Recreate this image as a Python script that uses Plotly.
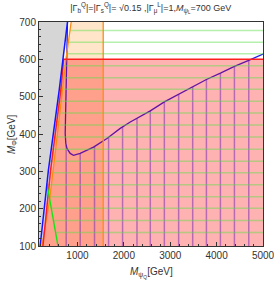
import numpy as np
import plotly.graph_objects as go

# axis ranges
x_min, x_max = 170, 5000
y_min, y_max = 100, 700

# boundary of grey excluded region (blue line)
edge_x = [195, 373, 605, 784]
edge_y = [100, 303, 517, 700]
# red exclusion boundary
red_x = [255, 420, 640, 700, 5000]
red_y = [100, 303, 517, 600, 600]
# orange band
orange_x = [235, 398, 530, 660, 750, 864]
orange_y = [100, 223, 360, 500, 600, 700]
orange_right = 1555
# green region boundary (lower) and left edge
green_x = [580, 339]
green_y = [100, 268]
green_left_x = [339, 480, 620, 760, 864]
green_left_y = [268, 400, 520, 620, 700]
green_mesh_y = [136, 168, 201, 232, 264, 296, 327, 359, 392, 424, 456, 488,
                520, 551, 583, 615, 646, 677]
# U-shaped blue contour
u_x = [784, 771, 750, 737, 735, 748, 771, 842, 914, 1058, 1346, 1635, 1922,
       2138, 2570, 2873, 3181, 3484, 3780, 4082, 4384, 4693, 5000]
u_y = [700, 600, 520, 450, 401, 375, 362, 348, 343, 348, 365, 388, 415,
       432, 462, 486, 506, 526, 546, 563, 581, 597, 614]
blue_mesh_x = [756, 1058, 1367, 1670, 1972, 2283, 2570, 2873, 3181, 3484,
               3780, 4082, 4384, 4693]

fig = go.Figure()

# lavender strip between grey edge and red boundary
ys = np.linspace(100, 600, 30)
bx = np.interp(ys, edge_y, edge_x)
rx = np.interp(ys, red_y[:4], red_x[:4])
fig.add_trace(go.Scatter(x=list(bx) + list(rx[::-1]), y=list(ys) + list(ys[::-1]),
                         fill='toself', fillcolor='rgba(150,160,255,0.45)',
                         line=dict(width=0), mode='lines', hoverinfo='skip'))

# orange band fill
fig.add_trace(go.Scatter(x=orange_x + [orange_right, orange_right],
                         y=orange_y + [y_max, y_min],
                         fill='toself', fillcolor='rgba(255,150,40,0.25)',
                         line=dict(width=0), mode='lines', hoverinfo='skip'))

# blue vertical mesh lines (below the U contour)
i0 = u_x.index(735)
lx, ly = u_x[i0:], u_y[i0:]
mx, my = [], []
for xv in blue_mesh_x:
    top = float(np.interp(xv, lx, ly))
    mx += [xv, xv, None]
    my += [y_min, top, None]
fig.add_trace(go.Scatter(x=mx, y=my, mode='lines',
                         line=dict(color='rgba(70,70,255,0.55)', width=1.5),
                         hoverinfo='skip'))

# U contour
fig.add_trace(go.Scatter(x=u_x, y=u_y, mode='lines',
                         line=dict(color='rgb(30,30,235)', width=1.3),
                         hoverinfo='skip'))

# red region fill
fig.add_trace(go.Scatter(x=red_x + [x_max], y=red_y + [y_min],
                         fill='toself', fillcolor='rgba(255,0,0,0.3)',
                         line=dict(width=0), mode='lines', hoverinfo='skip'))

# green horizontal mesh lines
gx, gy = [], []
for yv in green_mesh_y:
    if yv >= green_y[1]:
        xs = float(np.interp(yv, green_left_y, green_left_x))
    else:
        xs = float(np.interp(yv, green_y, green_x))
    gx += [xs, x_max, None]
    gy += [yv, yv, None]
fig.add_trace(go.Scatter(x=gx, y=gy, mode='lines',
                         line=dict(color='rgba(90,225,70,0.45)', width=1.5),
                         hoverinfo='skip'))

# grey excluded region
fig.add_trace(go.Scatter(x=[x_min] + edge_x + [x_min], y=[y_min] + edge_y + [y_max],
                         fill='toself', fillcolor='rgb(214,214,214)',
                         line=dict(width=0), mode='lines', hoverinfo='skip'))

# boundary lines
fig.add_trace(go.Scatter(x=orange_x, y=orange_y, mode='lines',
                         line=dict(color='rgb(255,140,20)', width=1.3), hoverinfo='skip'))
fig.add_trace(go.Scatter(x=[orange_right, orange_right], y=[y_min, y_max], mode='lines',
                         line=dict(color='rgb(255,140,20)', width=1.3), hoverinfo='skip'))
fig.add_trace(go.Scatter(x=red_x, y=red_y, mode='lines',
                         line=dict(color='rgb(255,30,30)', width=1.5), hoverinfo='skip'))
fig.add_trace(go.Scatter(x=green_x, y=green_y, mode='lines',
                         line=dict(color='rgb(20,230,20)', width=1.4), hoverinfo='skip'))
fig.add_trace(go.Scatter(x=edge_x, y=edge_y, mode='lines',
                         line=dict(color='rgb(20,20,255)', width=1.5), hoverinfo='skip'))

axis_common = dict(showline=True, linecolor='#333', linewidth=1, mirror=True,
                   ticks='inside', tickcolor='#333', ticklen=4, showgrid=False,
                   zeroline=False, automargin=False, ticklabeloverflow='allow',
                   tickfont=dict(size=10, color='#333'))

fig.update_xaxes(range=[x_min, x_max], tickvals=[1000, 2000, 3000, 4000, 5000],
                 minor=dict(dtick=200, tick0=0, ticks='inside', ticklen=2, tickcolor='#333'),
                 **axis_common)
fig.update_yaxes(range=[y_min, y_max], tickvals=[100, 200, 300, 400, 500, 600, 700],
                 minor=dict(dtick=20, tick0=0, ticks='inside', ticklen=2, tickcolor='#333'),
                 **axis_common)

fig.update_layout(
    width=274, height=281,
    margin=dict(l=39, r=11, t=22, b=35),
    showlegend=False,
    plot_bgcolor='white', paper_bgcolor='white',
    font=dict(family='Liberation Sans, Arial, sans-serif', color='#333'),
    title=dict(text='|Γ<sub>b</sub><sup>Q</sup>|=|Γ<sub>s</sub><sup>Q</sup>|= √0.15 ,|Γ<sub>μ</sub><sup>L</sup>|=1,<i>M</i><sub>ψ<sub>L</sub></sub>=700 GeV',
               x=0.55, xanchor='center', y=0.972, yanchor='middle',
               font=dict(size=9, color='#333')),
    annotations=[
        dict(text='<i>M</i><sub>ψ<sub>Q</sub></sub>[GeV]', xref='paper', yref='paper',
             x=0.5, y=-0.12, xanchor='center', yanchor='middle', showarrow=False,
             font=dict(size=10, color='#333')),
        dict(text='<i>M</i><sub>Φ</sub>[GeV]', xref='paper', yref='paper',
             x=-0.12, y=0.5, xanchor='center', yanchor='middle', showarrow=False,
             textangle=-90, font=dict(size=10, color='#333')),
    ],
)

fig.write_html("out.html", config={'displayModeBar': False},
               post_script="document.body.style.margin='0px';")
